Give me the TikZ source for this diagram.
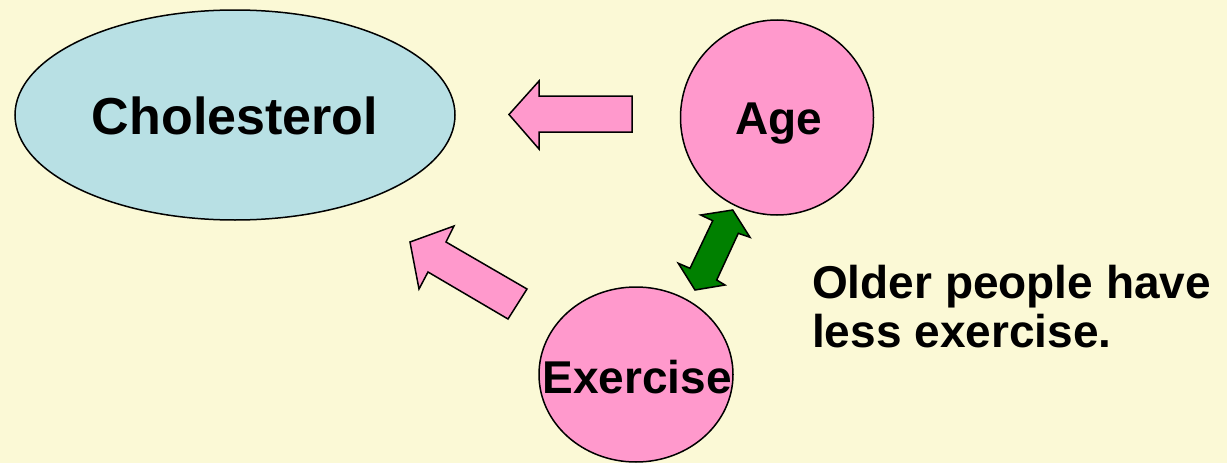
\documentclass[tikz,border=0pt]{standalone}
\usepackage{fontspec}
\setmainfont{Liberation Sans}
\definecolor{bgyellow}{HTML}{FBF9D6}
\definecolor{cholblue}{HTML}{B8E0E4}
\definecolor{pinkfill}{HTML}{FF99CC}
\definecolor{darkgreen}{HTML}{008000}
\tikzset{
  blob/.style={draw=black, line width=1.5pt},
  blockarrow/.style={draw=black, line width=1.5pt, line join=miter, fill=pinkfill},
  lbl/.style={inner sep=0pt, font=\bfseries\fontsize{46}{52}\selectfont, anchor=base},
}
\begin{document}
\begin{tikzpicture}[x=1pt,y=-1pt]
\useasboundingbox (0,0) rectangle (1227,463);
\fill[bgyellow] (0,0) rectangle (1227,463);
% shapes
\draw[blob, fill=cholblue] (235,115) ellipse [x radius=220, y radius=105];
\draw[blob, fill=pinkfill] (777,117.5) ellipse [x radius=96.5, y radius=97.5];
\draw[blob, fill=pinkfill] (636,374.5) ellipse [x radius=97, y radius=87.5];
% labels
\node[lbl, font=\bfseries\fontsize{52}{60}\selectfont] (chol) at (235,134) {Cholesterol};
\node[lbl] (age) at (779,134) {Age};
\node[lbl] (ex) at (637,393) {Exercise};
\node[lbl, anchor=base west] (note1) at (812,298) {Older people have};
\node[lbl, anchor=base west] (note2) at (812,347) {less exercise.};
% block arrows
\draw[blockarrow] (509,114.5) -- (539,81) -- (539,96) -- (632,96) -- (632,132) -- (539,132) -- (539,149) -- cycle;
\draw[blockarrow] (410,242) -- (454,226) -- (446,242) -- (527,289) -- (508,319) -- (428,272) -- (419,289) -- cycle;
\draw[blockarrow, fill=darkgreen] (732.7,210) -- (750,237.3) -- (738.3,233.3) -- (716.7,280) -- (725,285) -- (695,290) -- (678.3,263.3) -- (690,268.3) -- (712.7,220.7) -- (700.7,215) -- cycle;
\end{tikzpicture}
\end{document}
